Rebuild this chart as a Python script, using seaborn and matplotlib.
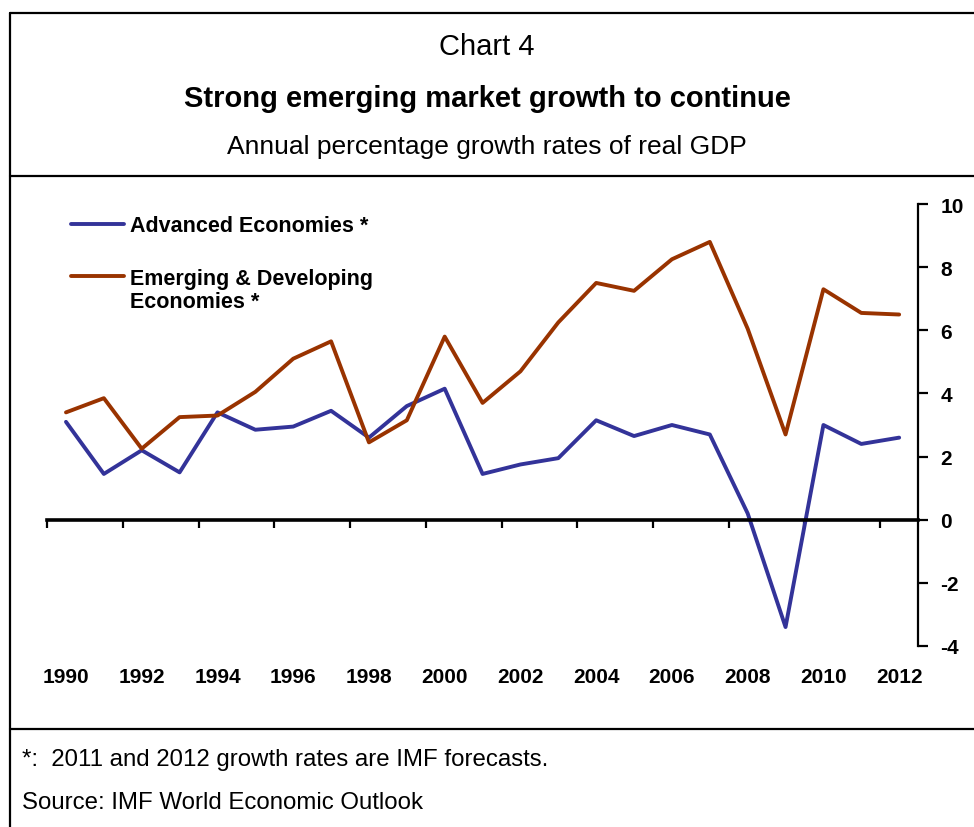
import numpy as np
import pandas as pd
import matplotlib
matplotlib.use("Agg")
import matplotlib.pyplot as plt
import seaborn as sns
from matplotlib.lines import Line2D

# Données (croissance annuelle du PIB réel, %)
years = list(range(1990, 2013))
advanced = [3.1, 1.45, 2.2, 1.5, 3.4, 2.85, 2.95, 3.45, 2.6, 3.6, 4.15,
            1.45, 1.75, 1.95, 3.15, 2.65, 3.0, 2.7, 0.2, -3.4, 3.0, 2.4, 2.6]
emerging = [3.4, 3.85, 2.25, 3.25, 3.3, 4.05, 5.1, 5.65, 2.45, 3.15, 5.8,
            3.7, 4.7, 6.25, 7.5, 7.25, 8.25, 8.8, 6.05, 2.7, 7.3, 6.55, 6.5]
series_names = ["Advanced Economies *", "Emerging & Developing Economies *"]
legend_first = ["Advanced Economies *", "Emerging & Developing"]
legend_second = "Economies *"
colors = ["#333399", "#993300"]
year_labels = [str(y) for y in years[::2]]
yticks = list(range(-4, 11, 2))

df = pd.DataFrame({
    "year": years * 2,
    "growth": advanced + emerging,
    "series": [series_names[0]] * len(years) + [series_names[1]] * len(years),
})

sns.set_theme(style="white")
plt.rcParams["font.family"] = ["Liberation Sans", "DejaVu Sans"]
plt.rcParams["axes.unicode_minus"] = False
plt.rcParams["text.color"] = "black"
plt.rcParams["xtick.color"] = "black"
plt.rcParams["ytick.color"] = "black"

fig = plt.figure(figsize=(9.74, 8.28), dpi=100)
ax = fig.add_axes([0.0483, 0.2186, 0.8943, 0.5338])

sns.lineplot(data=df, x="year", y="growth", hue="series", palette=colors,
             linewidth=2.8, ax=ax, legend=False, sort=False)

ax.set_xlim(1989.5, 2012.5)
ax.set_ylim(-4, 10)
ax.set_xlabel("")
ax.set_ylabel("")

# axes : y à droite, axe des x sur le zéro
for s in ["left", "top"]:
    ax.spines[s].set_visible(False)
ax.spines["right"].set_linewidth(1.6)
ax.spines["right"].set_color("black")
ax.spines["bottom"].set_position(("data", 0))
ax.spines["bottom"].set_linewidth(2.6)
ax.spines["bottom"].set_color("black")

ax.yaxis.tick_right()
ax.set_yticks(yticks)
ax.tick_params(axis="y", direction="out", length=7, width=1.6, pad=9,
               labelsize=15, colors="black")
for lab in ax.get_yticklabels():
    lab.set_fontweight("bold")

ax.set_xticks(np.arange(1989.5, 2012, 2))
ax.tick_params(axis="x", direction="out", length=6, width=1.6,
               labelbottom=False, bottom=True)

sec = ax.secondary_xaxis("bottom")
sec.set_xticks(years[::2])
sec.set_xticklabels(year_labels, fontsize=15, fontweight="bold", color="black")
sec.tick_params(length=0, pad=15)
sec.spines["bottom"].set_visible(False)

# légende (la deuxième ligne du libellé orange est posée sous la première)
handles = [Line2D([], [], color=c, lw=2.8) for c in colors]
leg = ax.legend(handles, legend_first, loc="upper left",
                bbox_to_anchor=(0.0276, 0.975), frameon=False,
                prop={"size": 15.5, "weight": "bold"}, handlelength=2.45,
                handletextpad=0.3, labelspacing=1.48, borderpad=0,
                borderaxespad=0)
ax.annotate(legend_second, xy=(0, 0), xycoords=leg.get_texts()[1],
            xytext=(0, -1.5), textcoords="offset points", ha="left", va="top",
            fontsize=15.5, fontweight="bold", zorder=10)

# titres et notes
fig.text(0.5, 1 - 47 / 828, "Chart 4", ha="center", va="center", fontsize=21)
fig.text(0.5, 1 - 99 / 828, "Strong emerging market growth to continue",
         ha="center", va="center", fontsize=21, fontweight="bold")
fig.text(0.5, 1 - 147 / 828, "Annual percentage growth rates of real GDP",
         ha="center", va="center", fontsize=19)
fig.text(22 / 974, 1 - 760 / 828, "*:  2011 and 2012 growth rates are IMF forecasts.",
         ha="left", va="center", fontsize=17.3)
fig.text(22 / 974, 1 - 803 / 828, "Source: IMF World Economic Outlook",
         ha="left", va="center", fontsize=17.3)

# cadre
lw = 1.6
fig.add_artist(Line2D([10 / 974, 10 / 974], [0, 1 - 14 / 828], color="black", lw=lw))
fig.add_artist(Line2D([10 / 974, 1], [1 - 14 / 828, 1 - 14 / 828], color="black", lw=lw))
fig.add_artist(Line2D([10 / 974, 1], [1 - 177 / 828, 1 - 177 / 828], color="black", lw=lw))
fig.add_artist(Line2D([10 / 974, 1], [1 - 730 / 828, 1 - 730 / 828], color="black", lw=lw))

fig.savefig("out.png", dpi=100, facecolor="white")
